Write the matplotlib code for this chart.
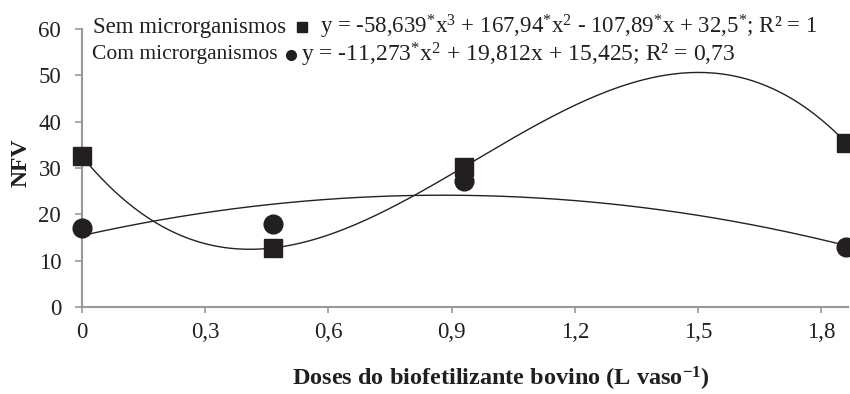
import numpy as np
import matplotlib
matplotlib.use("Agg")
import matplotlib.pyplot as plt

plt.rcParams['font.family'] = ['Liberation Serif', 'DejaVu Serif']
plt.rcParams['mathtext.fontset'] = 'custom'
plt.rcParams['mathtext.rm'] = 'Liberation Serif'
plt.rcParams['mathtext.it'] = 'Liberation Serif:italic'
plt.rcParams['mathtext.bf'] = 'Liberation Serif:bold'

doses = [0, 0.465, 0.93, 1.86]
sem_values = [32.5, 12.7, 30.2, 35.5]
com_values = [17.0, 18.0, 27.3, 12.9]
sem_coefs = [-58.639, 167.94, -107.89, 32.5]
com_coefs = [-11.273, 19.812, 15.425]
xticks = [0, 0.3, 0.6, 0.9, 1.2, 1.5, 1.8]
xticklabels = ['0', '0,3', '0,6', '0,9', '1,2', '1,5', '1,8']
yticks = [0, 10, 20, 30, 40, 50, 60]

fig = plt.figure(figsize=(8.5, 3.94), dpi=100)
ax = fig.add_axes([0.0965, 0.2208, 0.9011, 0.7056])

xs = np.linspace(0, 1.86, 300)
ax.plot(xs, np.polyval(sem_coefs, xs), color='#222222', lw=1.0, clip_on=False)
ax.plot(xs, np.polyval(com_coefs, xs), color='#222222', lw=1.0, clip_on=False)
ax.plot(doses, sem_values, 's', color='#231f20', ms=13, clip_on=False, zorder=5)
ax.plot(doses, com_values, 'o', color='#231f20', ms=13.5, clip_on=False, zorder=5)

ax.set_xlim(0, 1.865)
ax.set_ylim(0, 60)
ax.set_xticks(xticks)
ax.set_xticklabels(xticklabels)
ax.set_yticks(yticks)
for s in ['top', 'right']:
    ax.spines[s].set_visible(False)
for s in ['left', 'bottom']:
    ax.spines[s].set_color('#999999')
    ax.spines[s].set_linewidth(1.5)
fs = 16.5
ax.tick_params(axis='y', length=5, width=1.2, color='#999999', pad=10, labelsize=fs, labelcolor='#231f20')
ax.tick_params(axis='x', length=4, width=1.2, color='#999999', pad=7, labelsize=fs, labelcolor='#231f20')

fig.text(21/850, 1-163/394, 'NFV', rotation=90, fontsize=17, fontweight='bold', ha='center', va='center', color='#231f20')
fig.text(501/850, 1-379/394, r'Doses do biofetilizante bovino (L vaso$^{\mathbf{-1}}$)', fontsize=17.5,
         fontweight='bold', ha='center', va='center', color='#231f20')

fig.text(93/850, 1-27/394, 'Sem microrganismos', fontsize=fs, ha='left', va='center', color='#231f20')
fig.text(320/850, 1-27/394, r'y = -58,639$^{*}$x$^{3}$ + 167,94$^{*}$x$^{2}$ - 107,89$^{*}$x + 32,5$^{*}$; R² = 1',
         fontsize=fs, ha='left', va='center', color='#231f20')
fig.text(92/850, 1-55/394, 'Com microrganismos', fontsize=15.5, ha='left', va='center', color='#231f20')
fig.text(301/850, 1-55/394, r'y = -11,273$^{*}$x$^{2}$ + 19,812x + 15,425; R² = 0,73',
         fontsize=17, ha='left', va='center', color='#231f20')
fig.lines.append(plt.Line2D([302/850], [1-27/394], marker='s', ms=7.5, color='#231f20', transform=fig.transFigure))
fig.lines.append(plt.Line2D([291/850], [1-55/394], marker='o', ms=7, color='#231f20', transform=fig.transFigure))

fig.savefig('out.png', dpi=100)
